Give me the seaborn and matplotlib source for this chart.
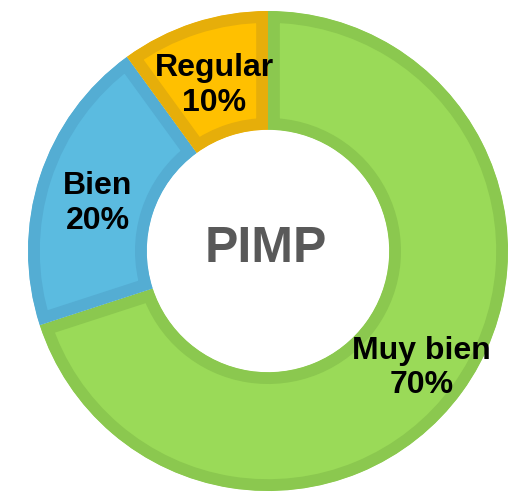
"""
Donut chart of PIMP ratings (Muy bien / Bien / Regular).
"""

import matplotlib
matplotlib.use("Agg")
import matplotlib.pyplot as plt
import seaborn as sns

# ---------------------------
# Data
# ---------------------------
categories = ["Muy bien", "Bien", "Regular"]
percentages = [70, 20, 10]
fill_colors = ["#9ADA58", "#5BBBE0", "#FFC000"]
edge_colors = ["#8BC84F", "#54ADD3", "#E6AE0A"]
# label centres in data units (radius 1 = outer edge)
label_xy = [(0.64, -0.487), (-0.71, 0.197), (-0.225, 0.69)]
center_title = "PIMP"

# ---------------------------
# Style
# ---------------------------
sns.set_theme(style="white")
plt.rcParams["font.family"] = ["Liberation Sans", "DejaVu Sans"]

fig = plt.figure(figsize=(5.08, 4.96), dpi=100)
ax = fig.add_axes([0, 0, 1, 1])

wedges, _ = ax.pie(
    percentages,
    colors=fill_colors,
    startangle=90,
    counterclock=False,
    radius=1.0,
    wedgeprops=dict(width=0.495, linewidth=17),
)

ax.set_xlim(-268 / 240, 240 / 240)
ax.set_ylim(-245 / 240, 251 / 240)
ax.set_aspect("equal")
ax.axis("off")

for w, ec in zip(wedges, edge_colors):
    w.set_edgecolor(ec)
    # keep only the inner half of the border
    w.set_clip_on(True)
    w.set_clip_path(w)

for (x, y), name, pct in zip(label_xy, categories, percentages):
    ax.text(x, y, f"{name}\n{pct}%", ha="center", va="center",
            fontsize=23, fontweight="bold", color="black", linespacing=1.2)

ax.text(-0.01, 0.008, center_title, ha="center", va="center",
        fontsize=36, fontweight="bold", color="#595959")

# ---------------------------
# Save PNG
# ---------------------------
fig.savefig("out.png", dpi=100)
